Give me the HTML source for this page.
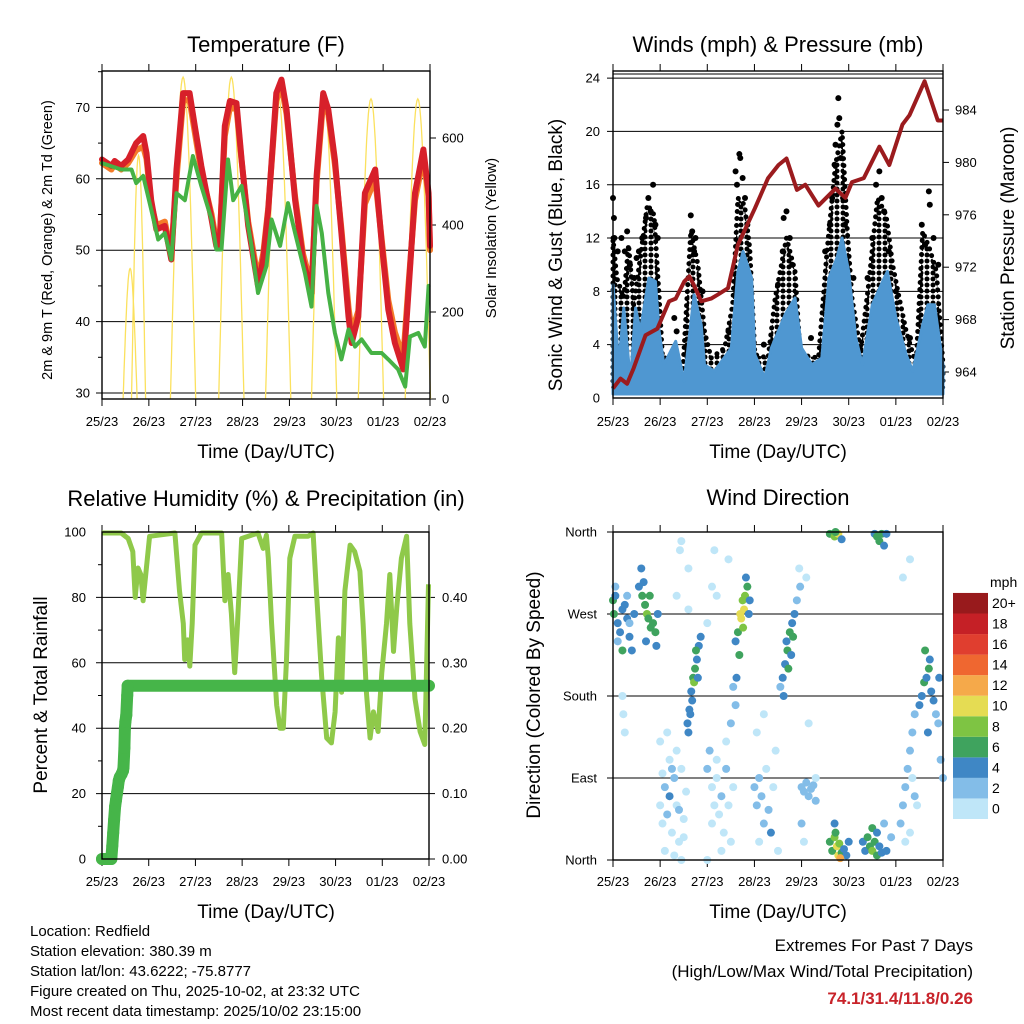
<!DOCTYPE html>
<html><head><meta charset="utf-8"><style>
html,body{margin:0;padding:0;background:#fff;}
svg{display:block;font-family:"Liberation Sans",Arial,sans-serif;}
</style></head><body>
<svg id="c" width="1024" height="1024" viewBox="0 0 1024 1024" xmlns="http://www.w3.org/2000/svg">
<defs>
<pattern id="dots" width="6" height="6" patternUnits="userSpaceOnUse"><circle cx="3" cy="3" r="2.5" fill="#000"/></pattern>
</defs>
<rect x="0" y="0" width="1024" height="1024" fill="#fff"/>
<text x="266" y="52" font-size="22" text-anchor="middle">Temperature (F)</text>
<text x="778" y="52" font-size="22" text-anchor="middle">Winds (mph) &amp; Pressure (mb)</text>
<text x="266" y="506" font-size="22" text-anchor="middle">Relative Humidity (%) &amp; Precipitation (in)</text>
<text x="778" y="505" font-size="22" text-anchor="middle">Wind Direction</text>
<text x="266" y="458" font-size="19" text-anchor="middle">Time (Day/UTC)</text>
<text x="778" y="458" font-size="19" text-anchor="middle">Time (Day/UTC)</text>
<text x="266" y="918" font-size="19" text-anchor="middle">Time (Day/UTC)</text>
<text x="778" y="918" font-size="19" text-anchor="middle">Time (Day/UTC)</text>
<text transform="rotate(-90 52 240)" x="52" y="240" font-size="14.5" text-anchor="middle">2m &amp; 9m T (Red, Orange) &amp; 2m Td (Green)</text>
<text transform="rotate(-90 496 238)" x="496" y="238" font-size="15" text-anchor="middle">Solar Insolation (Yellow)</text>
<text transform="rotate(-90 562 255)" x="562" y="255" font-size="19" text-anchor="middle">Sonic Wind &amp; Gust (Blue, Black)</text>
<text transform="rotate(-90 1014 238)" x="1014" y="238" font-size="19" text-anchor="middle">Station Pressure (Maroon)</text>
<text transform="rotate(-90 47 695)" x="47" y="695" font-size="19" text-anchor="middle">Percent &amp; Total Rainfall</text>
<text transform="rotate(-90 540 695)" x="540" y="695" font-size="19" text-anchor="middle">Direction (Colored By Speed)</text>
<text x="990" y="587" font-size="14">mph</text>
<g font-size="15">
<text x="30" y="936">Location: Redfield</text>
<text x="30" y="956">Station elevation: 380.39 m</text>
<text x="30" y="976">Station lat/lon: 43.6222; -75.8777</text>
<text x="30" y="996">Figure created on Thu, 2025-10-02, at 23:32 UTC</text>
<text x="30" y="1016">Most recent data timestamp: 2025/10/02 23:15:00</text>
</g>
<text x="973" y="951" font-size="17" text-anchor="end">Extremes For Past 7 Days</text>
<text x="973" y="977" font-size="17" text-anchor="end">(High/Low/Max Wind/Total Precipitation)</text>
<text x="973" y="1004" font-size="17" font-weight="bold" fill="#c8232a" text-anchor="end">74.1/31.4/11.8/0.26</text>
</svg>
<script>
// ---------- data ----------
const dayLabels=['25/23','26/23','27/23','28/23','29/23','30/23','01/23','02/23'];
const tempTicks=[30,40,50,60,70];
const solarTicks=[0,200,400,600];
const windTicks=[0,4,8,12,16,20,24];
const pressTicks=[964,968,972,976,980,984];
const rhTicks=[0,20,40,60,80,100];
const precipTicks=['0.00','0.10','0.20','0.30','0.40'];
const dirLabels=['North','East','South','West','North'];
const cbLabels=['0','2','4','6','8','10','12','14','16','18','20+'];
const cbColors=['#bfe6f8','#83bde8','#3f87c5','#3fa35e','#7ec443','#e5dc53','#f5a94a','#ef6730','#e03e2f','#c52026','#981a1c'];

const redT=[0,0.2,0.27,0.41,0.56,0.73,0.88,0.95,1.05,1.16,1.34,1.48,1.59,1.73,1.87,1.98,2.12,2.34,2.44,2.51,2.62,2.73,2.87,2.98,3.12,3.33,3.44,3.55,3.72,3.83,3.94,4.12,4.29,4.47,4.58,4.72,4.83,4.97,5.11,5.26,5.33,5.47,5.61,5.83,5.97,6.11,6.25,6.43,6.54,6.68,6.86,6.97,7.0];
const redV=[62.7,61.8,62.5,61.8,62.7,65,66,63.6,57,52.9,53.4,48.7,61.3,72,72,67.4,61.8,54.3,50.6,50.6,67.4,70.9,70.6,62.7,53.4,45,48.7,55.7,72,73.9,69.7,57,48.7,44,60.4,72,69.7,62.7,52.4,40.7,37,40.7,58,61.3,51,41.7,37,33.3,44,58,64.1,58,50.6];
const orangeV=[62.2,61.3,62,61.3,62.2,64,64.5,62.8,56.5,53.5,54,49.5,60,71,71,66.5,61,55,51.2,51.2,66,70,69.8,62.5,54,46,49.5,56,71,73,69,57.5,49.5,45,59.5,71,69,62,53,42,38.5,41.5,56.5,60,51.5,43,38.5,35,45,57,63,57.5,50];
const dewT=[0,0.41,0.63,0.73,0.88,1.05,1.2,1.34,1.48,1.59,1.77,1.94,2.12,2.34,2.44,2.55,2.69,2.8,2.98,3.19,3.33,3.51,3.62,3.8,3.97,4.12,4.33,4.47,4.58,4.69,4.83,4.97,5.11,5.26,5.4,5.54,5.75,5.97,6.11,6.32,6.47,6.57,6.75,6.89,6.97];
const dewV=[62.2,61.3,61.3,59.4,60.4,55.7,51.5,52.4,48.7,58,57,63.2,59,54.3,50.1,50.1,62.7,57,59,50.6,44,47.8,54.3,50.6,56.6,52.4,46.8,42.1,56.2,52.4,44,38.4,34.7,38.9,36.5,37.5,35.6,35.6,34.7,33.3,30.9,37.9,38.4,36.5,45];
const solarPeakT=[0.6,0.78,1.73,2.76,3.76,4.74,5.74,6.74];
const solarPeakV=[300,560,740,740,700,690,690,690];

const pressT=[0,0.16,0.3,0.44,0.69,0.94,1.19,1.33,1.51,1.62,1.72,1.87,2.08,2.22,2.44,2.65,3.01,3.29,3.51,3.68,3.9,4.08,4.36,4.72,4.93,5.07,5.32,5.65,5.86,6.14,6.29,6.61,6.89,7.0];
const pressV=[962.75,963.5,963.1,964.3,966.8,967.3,969.4,969.6,970.9,971.3,970.6,969.4,969.6,969.9,970.4,973.7,976.5,978.8,979.8,980.3,977.9,978.3,976.7,978,977.3,978.5,978.8,981.2,979.8,982.9,983.6,986.2,983.2,983.2];
const windT=[0,0.12,0.23,0.37,0.48,0.58,0.76,0.9,0.98,1.08,1.33,1.51,1.72,1.87,1.94,2.15,2.51,2.65,2.76,2.94,3.01,3.22,3.36,3.65,3.86,4.0,4.22,4.43,4.58,4.75,4.86,5.0,5.15,5.29,5.5,5.72,5.82,6.0,6.22,6.36,6.57,6.68,6.82,6.93,7.0];
const windV=[8.5,2.5,6.75,1.25,6.75,5,9,8.75,5,2.5,4.25,1.25,7.75,5.5,2.5,2,3.75,9.5,11,9,3.25,1.5,3.75,6.25,7.5,3.75,2.5,3,9,10.5,12,9.5,4.5,2.5,7,8.75,9.5,6,3.25,2,5.5,7,7,4.25,2.5];
const gustT=[0,0.08,0.23,0.33,0.44,0.58,0.73,0.87,0.98,1.05,1.3,1.48,1.65,1.8,1.94,2.08,2.37,2.54,2.65,2.79,2.9,3.01,3.29,3.44,3.68,3.86,3.97,4.36,4.54,4.72,4.86,4.97,5.07,5.25,5.43,5.61,5.79,5.93,6.07,6.22,6.43,6.57,6.71,6.86,7.0];
const gustV=[12,9,7.5,11.5,7,10.5,14.5,13.75,7.5,3,3,2,12.5,10,5,3,3.75,7,15,14.5,11.25,3.25,3,7.5,12,9.5,3.25,3,11,17.5,20,12.5,7.5,3.5,8.75,15,13.75,10,7.5,5,2.5,12.5,11.25,9.5,2.5];
const gustDotT=[0,0.02,0.03,0.1,0.18,0.25,0.3,0.36,0.45,0.5,0.55,0.62,0.7,0.75,0.8,0.85,0.9,0.95,1.3,1.35,1.65,1.68,1.72,1.75,1.9,2.45,2.6,2.63,2.68,2.7,2.75,2.8,2.85,3.2,3.5,3.6,3.62,3.68,3.75,3.8,4.2,4.5,4.6,4.65,4.7,4.72,4.76,4.78,4.8,4.83,4.88,4.92,5.1,5.4,5.5,5.58,5.65,5.7,5.75,5.85,6.0,6.3,6.55,6.62,6.7,6.72,6.8,6.9];
const gustDotV=[15,13.5,12,11,12,11,12.5,10,9,10.5,11,12,13.5,15,14,16,13,12,6,5,13.7,12.5,11,12,8,5,17,16,18.3,18,16.5,15,13,4,8.5,11,13.5,14,12,10,4.5,11,13,15,17.5,19,20.5,22.5,21,18,15,13,9,9,12,16,17,15,14,11,8,4.5,13,11.5,15.5,14.5,12,10];

const rhT=[0,0.41,0.56,0.66,0.71,0.77,0.83,0.88,0.95,1.02,1.56,1.66,1.74,1.77,1.83,1.88,1.93,1.99,2.13,2.56,2.63,2.7,2.77,2.84,2.9,2.99,3.34,3.45,3.52,3.56,3.63,3.74,3.81,3.88,3.95,4.02,4.13,4.41,4.52,4.59,4.7,4.81,4.91,4.99,5.06,5.13,5.2,5.31,5.41,5.52,5.59,5.66,5.74,5.81,5.91,5.99,6.09,6.16,6.24,6.31,6.41,6.52,6.59,6.7,6.81,6.91,6.99];
const rhV=[99.7,99.7,98,94,80,89,87,79,89,98.7,99.7,82,72,61,67,59,72,96,99.7,99.7,79,87,75,57,72,98,99.7,95,99,92,72,47,40,40,61,92,98.7,98.7,99.7,82,56,37,35.5,45,67.6,51,82,96,94,88,72,51,37,45,39,57,72,87,63.5,77,92,98.7,72,49,39,35,84];
const precipT=[0,0.05,0.1,0.15,0.2,0.22,0.24,0.26,0.28,0.3,0.32,0.34,0.36,0.38,0.42,0.45,0.46,0.48,0.49,0.5,0.52,0.54,0.55,1,2,3,4,5,6,7];
const precipV=[0,0,0,0,0,0.02,0.04,0.06,0.08,0.09,0.1,0.11,0.12,0.125,0.13,0.135,0.14,0.17,0.2,0.21,0.22,0.25,0.265,0.265,0.265,0.265,0.265,0.265,0.265,0.265];

const dirT=[0,0.02,0.05,0.1,0.15,0.2,0.25,0.3,0.35,0.4,0.45,0.1,0.2,0.05,0.3,0.35,
0.55,0.6,0.62,0.68,0.72,0.75,0.8,0.85,0.9,0.95,0.78,0.65,0.7,0.92,
1.0,1.05,1.1,1.15,1.2,1.25,1.3,1.35,1.4,1.45,1.5,1.55,1.1,1.3,1.45,1.2,1.35,1.15,1.0,1.25,1.4,1.5,1.05,
0.2,0.22,0.25,1.45,1.42,1.35,1.6,1.6,
1.58,1.62,1.66,1.7,1.74,1.78,1.82,1.86,1.72,1.68,1.64,1.6,1.76,1.8,
2.0,2.05,2.1,2.15,2.2,2.25,2.3,2.35,2.4,2.45,2.5,2.55,2.1,2.2,2.3,2.0,2.4,2.5,2.55,2.6,
2.15,2.1,2.2,2.45,2.0,
2.6,2.65,2.7,2.72,2.75,2.8,2.78,2.85,2.82,2.68,2.76,2.9,2.62,2.88,
3.0,3.05,3.1,3.15,3.2,3.25,3.3,3.35,3.4,3.45,3.5,3.05,3.2,3.1,
3.55,3.6,3.65,3.7,3.75,3.8,3.85,3.9,3.62,3.68,3.72,3.78,3.82,3.95,3.97,
4.0,4.05,4.1,4.15,4.2,4.25,4.3,4.0,4.05,4.15,4.3,4.1,
4.6,4.65,4.7,4.75,4.78,4.8,4.85,4.9,4.95,5.0,4.72,4.82,4.7,
4.6,4.7,4.78,4.85,4.72,
5.3,5.35,5.4,5.45,5.5,5.55,5.6,5.65,5.7,5.8,5.9,5.75,5.5,5.6,
5.55,5.6,5.65,5.7,5.75,5.8,
6.1,6.15,6.2,6.25,6.3,6.35,6.4,6.2,6.3,6.4,6.45,6.35,6.15,6.3,
6.5,6.55,6.6,6.65,6.7,6.72,6.75,6.8,6.85,6.9,6.62,6.68,6.95,7.0,6.92];
const dirV=[285,270,290,260,250,275,280,265,245,230,270,240,230,300,290,260,
300,320,290,280,270,265,255,260,250,270,290,305,240,235,
60,40,80,50,70,30,90,60,20,100,45,75,10,5,0,110,120,140,130,100,55,25,95,
180,160,140,350,340,290,275,320,
150,165,185,200,210,220,235,245,195,175,160,140,230,200,
100,120,80,60,90,50,70,30,100,60,20,80,40,110,10,0,130,150,190,170,
340,300,290,330,260,
240,250,270,265,285,290,275,300,310,225,255,285,200,270,
80,60,90,70,40,100,55,30,80,120,10,140,160,20,
190,200,215,230,250,260,270,285,180,240,210,225,245,320,300,
80,75,85,70,78,82,65,40,20,150,90,310,
20,10,25,15,5,18,8,12,5,20,30,2,40,
358,355,358,352,360,
20,10,25,15,10,20,5,15,8,10,25,40,35,30,
358,355,350,358,345,358,
40,60,80,100,120,140,160,20,30,70,60,90,310,330,
170,180,195,200,210,220,185,175,160,150,230,140,110,90,200];
const dirS=[6,6,4,4,4,4,4,4,4,4,4,2,6,2,2,2,
4,4,6,6,8,6,6,6,6,4,6,4,4,4,
0,0,2,2,4,0,2,0,0,0,0,0,0,0,0,0,0,0,0,2,2,0,0,
0,0,0,0,0,0,0,0,
4,4,4,6,6,4,4,4,8,4,4,4,6,4,
2,2,0,0,0,0,2,0,2,0,0,0,0,0,0,0,0,2,2,2,
0,0,0,0,0,
4,6,10,10,8,8,10,6,4,6,8,4,4,4,
2,2,2,2,2,0,2,4,0,0,0,0,0,0,
2,4,4,6,6,4,4,2,4,4,6,4,6,0,2,
2,2,2,2,2,2,2,2,0,0,0,0,
6,6,8,10,10,8,6,4,4,4,6,12,4,
6,8,10,4,6,
4,4,6,6,8,6,6,4,4,4,2,2,6,4,
4,6,6,6,4,4,
2,2,2,2,2,2,2,0,0,2,0,0,0,0,
4,4,6,4,6,4,4,4,2,2,6,4,2,2,4];

// ---------- helpers ----------
const NS='http://www.w3.org/2000/svg';
const svg=document.getElementById('c');
function mk(tag,attrs,parent){const e=document.createElementNS(NS,tag);for(const k in attrs)e.setAttribute(k,attrs[k]);(parent||svg).appendChild(e);return e;}
function pathD(xs,ys){return xs.map((x,i)=>(i?'L':'M')+x.toFixed(1)+' '+ys[i].toFixed(1)).join(' ');}

const P1={x:102,y:71,w:328,h:328}, P2={x:613,y:71,w:330,h:327}, P3={x:102,y:532,w:327,h:327}, P4={x:613,y:532,w:330,h:328};
const tX=(p,t)=>p.x+t*p.w/7;
const TY=v=>393-(v-30)*7.14;
const SY=s=>399-s*0.435;
const WY=s=>398-s*13.33;
const PY=p=>372-(p-964)*13.1;
const RY=r=>859-r*3.27;
const PPY=v=>859-v*654;
const DY=d=>860-d*328/360;

function frame(p,name,lbl){
  const g=mk('g',{});
  
  
  for(let i=0;i<dayLabels.length;i++){
    const x=p.x+i*p.w/7;
    const t1=mk('line',{x1:x,x2:x,y1:p.y,y2:p.y-7,stroke:'#000','stroke-width':1},g);
    
    
    const t2=mk('line',{x1:x,x2:x,y1:p.y+p.h,y2:p.y+p.h+7,stroke:'#000','stroke-width':1},g);
    
    
    const tx=mk('text',{x:x,y:lbl,'font-size':13,'text-anchor':'middle'},g);
    tx.textContent=dayLabels[i];
    
    
  }
  return g;
}
function grid(p,ys,name){
  ys.forEach(y=>{
    const l=mk('line',{x1:p.x-6,x2:p.x+p.w,y1:y,y2:y,stroke:'#000','stroke-width':1});
    
    
  });
}
function border(p,name){
  const r=mk('rect',{x:p.x,y:p.y,width:p.w,height:p.h,fill:'none',stroke:'#000','stroke-width':1.4});
  
  
}
function tickText(x,y,s,anchor,name){
  const t=mk('text',{x:x,y:y+4.5,'font-size':13,'text-anchor':anchor});
  t.textContent=s;
  
  
}
function rightTick(p,y,name){
  const l=mk('line',{x1:p.x+p.w,x2:p.x+p.w+6,y1:y,y2:y,stroke:'#000','stroke-width':1});
  
  
}
function leftTick(p,y,len,name){
  const l=mk('line',{x1:p.x-len,x2:p.x,y1:y,y2:y,stroke:'#000','stroke-width':1});
  
  
}

// ---------- Panel 1 ----------
frame(P1,'temp',426);
grid(P1,tempTicks.map(TY),'temp');
tempTicks.forEach(v=>tickText(90,TY(v),String(v),'end','temp-y-tick-label'));
[35,45,55,65,75].forEach(v=>{if(TY(v)>P1.y)leftTick(P1,TY(v),4,'temp-minor-tick');});
solarTicks.forEach(v=>{rightTick(P1,SY(v),'solar-tick');tickText(442,SY(v),String(v),'start','solar-y-tick-label');});
for(let i=0;i<solarPeakT.length;i++){
  const hw=i<2?0.15:0.27;
  const xs=[],ys=[];
  for(let k=0;k<=30;k++){const t=solarPeakT[i]-hw+2*hw*k/30;const s=solarPeakV[i]*Math.sin(Math.PI*k/30);xs.push(tX(P1,t));ys.push(SY(s));}
  const sp=mk('path',{d:pathD(xs,ys),fill:'none',stroke:'#fbe15e','stroke-width':1.3});
  
  
}
const orangeLine=mk('path',{d:pathD(redT.map(t=>tX(P1,t)),orangeV.map(TY)),fill:'none',stroke:'#f47b28','stroke-width':6,'stroke-linejoin':'round','stroke-linecap':'round'});


const redLine=mk('path',{d:pathD(redT.map(t=>tX(P1,t)),redV.map(TY)),fill:'none',stroke:'#d7202a','stroke-width':6,'stroke-linejoin':'round','stroke-linecap':'round'});


const dewLine=mk('path',{d:pathD(dewT.map(t=>tX(P1,t)),dewV.map(TY)),fill:'none',stroke:'#46b245','stroke-width':4,'stroke-linejoin':'round','stroke-linecap':'round'});


border(P1,'temp');

// ---------- Panel 2 ----------
frame(P2,'wind',426);
grid(P2,windTicks.filter(v=>v>0).map(WY),'wind');
windTicks.forEach(v=>tickText(600,WY(v),String(v),'end','wind-y-tick-label'));
pressTicks.forEach(v=>{rightTick(P2,PY(v),'pressure-tick');tickText(955,PY(v),String(v),'start','pressure-y-tick-label');});
{
  const xs=gustT.map(t=>tX(P2,t)),ys=gustV.map(WY);
  const d=pathD(xs,ys)+' L'+tX(P2,7)+' '+WY(0.8)+' L'+tX(P2,0)+' '+WY(0.8)+' Z';
  const ga=mk('path',{d:d,fill:'url(#dots)',stroke:'#000','stroke-width':5,'stroke-dasharray':'0 7','stroke-linecap':'round'});
  
  
}
for(let i=0;i<gustDotT.length;i++){
  const c=mk('circle',{cx:tX(P2,gustDotT[i]),cy:WY(gustDotV[i]),r:3,fill:'#000'});
  
  
}
{
  const xs=windT.map(t=>tX(P2,t)),ys=windV.map(WY);
  const d=pathD(xs,ys)+' L'+tX(P2,7)+' '+WY(0.3)+' L'+tX(P2,0)+' '+WY(0.3)+' Z';
  const wa=mk('path',{d:d,fill:'#4f97d1',stroke:'#4f97d1','stroke-width':3,'stroke-linejoin':'round'});
  
  
}
const pl=mk('path',{d:pathD(pressT.map(t=>tX(P2,t)),pressV.map(PY)),fill:'none',stroke:'#9b1b1e','stroke-width':4,'stroke-linejoin':'round'});


const topLine=mk('line',{x1:P2.x,x2:P2.x+P2.w,y1:74,y2:74,stroke:'#000','stroke-width':1});


border(P2,'wind');

// ---------- Panel 3 ----------
frame(P3,'humidity',886);
grid(P3,rhTicks.filter(v=>v>0&&v<100).map(RY),'humidity');
rhTicks.forEach(v=>tickText(86,RY(v),String(v),'end','humidity-y-tick-label'));
[10,30,50,70,90].forEach(v=>leftTick(P3,RY(v),4,'humidity-minor-tick'));
precipTicks.forEach(s=>{const y=PPY(parseFloat(s));rightTick(P3,y,'precip-tick');tickText(442,y,s,'start','precip-y-tick-label');});
const rl=mk('path',{d:pathD(rhT.map(t=>tX(P3,t)),rhV.map(RY)),fill:'none',stroke:'#8fc94a','stroke-width':5,'stroke-linejoin':'round'});


const pline=mk('path',{d:pathD(precipT.map(t=>tX(P3,t)),precipV.map(PPY)),fill:'none',stroke:'#46b549','stroke-width':12,'stroke-linecap':'round','stroke-linejoin':'round'});


for(let i=0;i<precipT.length;i++){
  if(precipT[i]>0.6)continue;
  const c=mk('circle',{cx:tX(P3,precipT[i]),cy:PPY(precipV[i]),r:6,fill:'#46b549'});
  
  
}
border(P3,'humidity');

// ---------- Panel 4 ----------
frame(P4,'direction',886);
grid(P4,[0,90,180,270,360].map(DY),'direction');
dirLabels.forEach((s,i)=>tickText(597,DY(i*90),s,'end','direction-y-tick-label'));
for(let i=0;i<dirT.length;i++){
  const c=mk('circle',{cx:tX(P4,dirT[i]),cy:DY(dirV[i]),r:4,fill:cbColors[Math.min(10,Math.round(dirS[i]/2))]});
  
  
}
border(P4,'direction');
for(let i=0;i<cbColors.length;i++){
  const y=819-(i+1)*20.55;
  const r=mk('rect',{x:953,y:y,width:35,height:20.55,fill:cbColors[i]});
  
  
  const t=mk('text',{x:992,y:y+15,'font-size':14});
  t.textContent=cbLabels[i];
  
  
}
</script>
</body></html>
